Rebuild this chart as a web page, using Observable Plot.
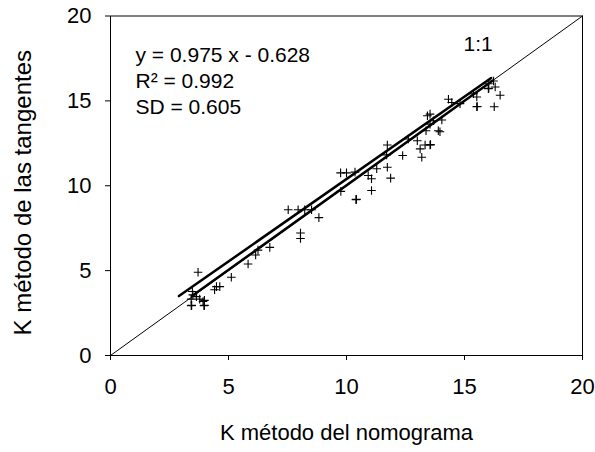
<!DOCTYPE html>
<html>
<head>
<meta charset="utf-8">
<script src="https://cdn.jsdelivr.net/npm/d3@7"></script>
<script src="https://cdn.jsdelivr.net/npm/@observablehq/plot@0.6"></script>
<style>
  html, body { margin: 0; padding: 0; background: white; }
</style>
</head>
<body>
<div id="chart"></div>
<script>
// Observed points: K (nomogram method) vs K (tangent method)
const kNomograma = [
  3.71, 3.47, 3.49, 3.64, 3.42, 3.78, 3.92, 3.42, 3.44, 3.96, 3.98, 3.98,
  4.41, 4.49, 4.63, 5.12, 5.83, 6.15, 6.25, 6.75,
  7.53, 7.95, 8.23, 8.52, 8.83, 8.05, 8.05,
  9.75, 10.0, 10.36, 9.76, 10.40, 10.42, 10.92, 11.06, 11.28, 11.06,
  11.73, 11.87, 11.73, 11.70, 12.38, 12.62, 13.0, 13.12, 13.19,
  13.33, 13.54, 13.56, 13.37, 13.54, 13.43, 13.54, 13.89, 13.68, 14.04, 13.96,
  14.32, 14.46, 14.81, 15.52, 15.52, 15.54, 15.38,
  16.01, 16.03, 16.01, 16.23, 16.30, 16.51, 16.26
];
const kTangentes = [
  4.90, 3.77, 3.57, 3.47, 3.32, 3.32, 3.18, 2.93, 2.95, 2.93, 2.95, 3.25,
  3.87, 4.06, 4.06, 4.61, 5.39, 5.92, 6.21, 6.37,
  8.59, 8.59, 8.59, 8.59, 8.12, 7.22, 6.89,
  10.76, 10.76, 10.80, 9.67, 9.18, 9.20, 10.60, 10.41, 11.0, 9.72,
  11.09, 10.45, 12.40, 11.82, 11.78, 12.75, 12.65, 12.17, 11.68,
  12.40, 12.40, 12.42, 13.24, 13.63, 14.12, 14.22, 13.24, 13.83, 13.87, 13.18,
  15.10, 14.90, 14.84, 15.23, 14.65, 14.67, 15.42,
  15.72, 15.74, 16.01, 16.17, 15.82, 15.33, 14.65
];

// Fitted line (thick) and 1:1 reference segments
const fitX = [2.9, 16.13];
const fitY = [3.5, 16.35];
const refThickX = [3.45, 16.2];
const refThickY = [3.5, 16.2];
const oneToOneX = [0, 20];
const oneToOneY = [0, 20];

const axisTicks = [0, 5, 10, 15, 20];
const xTitle = "K método del nomograma";
const yTitle = "K método de las tangentes";
const statsText = ["y = 0.975 x - 0.628", "R² = 0.992", "SD = 0.605"];
const oneToOneLabel = "1:1";

const points = kNomograma.map((x, i) => ({x, y: kTangentes[i]}));
const toRows = (xs, ys) => xs.map((x, i) => ({x, y: ys[i]}));

const thinPlus = {
  draw(context, size) {
    const r = Math.sqrt(size / Math.PI);
    context.moveTo(-r, 0); context.lineTo(r, 0);
    context.moveTo(0, -r); context.lineTo(0, r);
  }
};

const chart = Plot.plot({
  width: 595,
  height: 452,
  marginLeft: 110,
  marginRight: 13,
  marginTop: 15.5,
  marginBottom: 97,
  style: {fontFamily: "'Liberation Sans', Arial, sans-serif", fontSize: "22px", color: "black", background: "white"},
  x: {domain: [0, 20]},
  y: {domain: [0, 20]},
  marks: [
    Plot.line(toRows(oneToOneX, oneToOneY), {x: "x", y: "y", stroke: "black", strokeWidth: 1}),
    Plot.line(toRows(refThickX, refThickY), {x: "x", y: "y", stroke: "black", strokeWidth: 2.5}),
    Plot.line(toRows(fitX, fitY), {x: "x", y: "y", stroke: "black", strokeWidth: 2.5}),
    Plot.dot(points, {x: "x", y: "y", symbol: thinPlus, r: 4.3, stroke: "black", strokeWidth: 1.1, fill: "none"}),
    Plot.frame({stroke: "black", strokeWidth: 1}),
    Plot.axisX({ticks: axisTicks, tickSize: 5, tickPadding: 18, stroke: "black",
      label: xTitle, labelAnchor: "center", labelArrow: "none", labelOffset: 84}),
    Plot.axisY({ticks: axisTicks, tickSize: 5, tickPadding: 14, stroke: "black", label: null}),
    Plot.text([yTitle], {frameAnchor: "left", rotate: -90, dx: -87, dy: 7,
      textAnchor: "middle", lineAnchor: "middle", fontSize: 24, fill: "black"}),
    Plot.text([statsText.join("\n")], {frameAnchor: "top-left", dx: 25, dy: 27.5,
      textAnchor: "start", lineAnchor: "top", lineHeight: 1.24, fontSize: 21, fill: "black"}),
    Plot.text([oneToOneLabel], {frameAnchor: "top-left", dx: 353, dy: 20.5,
      textAnchor: "start", lineAnchor: "top", fontSize: 21, fill: "black"})
  ]
});
document.getElementById("chart").appendChild(chart);
</script>
</body>
</html>
